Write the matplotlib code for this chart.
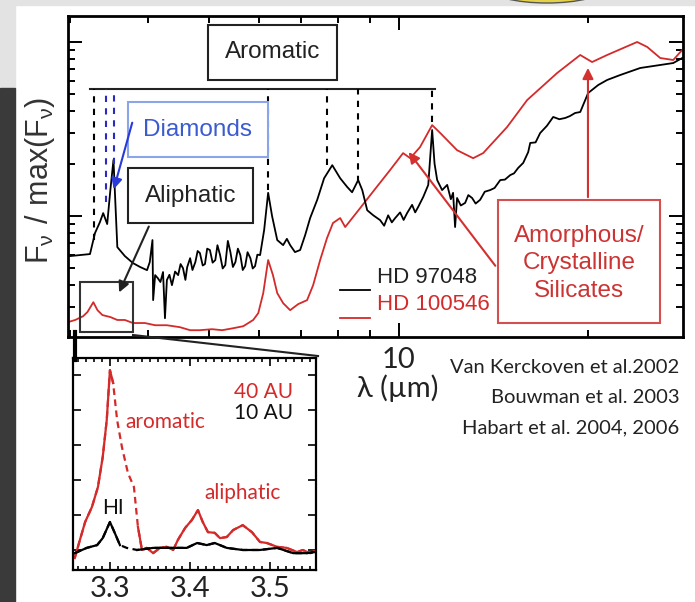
import numpy as np
import matplotlib.pyplot as plt
from matplotlib.patches import Rectangle, Ellipse
from matplotlib.lines import Line2D
from matplotlib.ticker import NullFormatter, MultipleLocator, FixedLocator

plt.rcParams['font.family'] = ['Liberation Sans', 'DejaVu Sans']

# ---- data: F_nu / max(F_nu) vs wavelength (micron) ----
# HD 97048 (black)
wl_97048 = [3.00, 3.23, 3.29, 3.35, 3.39, 3.44, 3.48, 3.52, 3.57, 3.67, 3.78, 3.88,
            3.98, 4.02, 4.06, 4.07, 4.10, 4.14, 4.18, 4.22, 4.25, 4.28, 4.32, 4.36,
            4.41, 4.46, 4.50, 4.54, 4.58, 4.61, 4.66, 4.70, 4.75, 4.79, 4.83, 4.88,
            4.92, 4.96, 5.01, 5.06, 5.11, 5.15, 5.20, 5.25, 5.30, 5.35, 5.40, 5.45,
            5.50, 5.55, 5.60, 5.65, 5.70, 5.75, 5.81, 5.86, 5.91, 5.96, 6.02, 6.11,
            6.20, 6.29, 6.41, 6.55, 6.64, 6.72, 6.84, 6.97, 7.10, 7.23, 7.42, 7.61,
            7.84, 8.07, 8.28, 8.43, 8.62, 8.75, 8.91, 9.11, 9.34, 9.48, 9.62, 9.75,
            9.87, 10.05, 10.18, 10.31, 10.50, 10.62, 10.74, 10.94, 11.14, 11.30, 11.40,
            11.51, 11.72, 11.94, 12.10, 12.20, 12.29, 12.38, 12.55, 12.75, 12.90, 13.08,
            13.25, 13.47, 13.70, 13.97, 14.20, 14.50, 14.75, 15.04, 15.25, 15.48, 15.77,
            16.06, 16.18, 16.50, 16.78, 17.20, 17.60, 18.00, 18.39, 18.70, 19.07, 19.43,
            20.00, 20.75, 21.44, 22.49, 24.20, 26.04, 27.31, 28.22]
f_97048 = [0.0589, 0.0605, 0.0799, 0.0924, 0.104, 0.090, 0.141, 0.210, 0.0663, 0.0589, 0.0537, 0.0510,
           0.0489, 0.0544, 0.0728, 0.0329, 0.0458, 0.0440, 0.0418, 0.0477, 0.0259, 0.0429, 0.0460, 0.0401,
           0.0480, 0.0458, 0.0530, 0.0502, 0.0430, 0.0509, 0.0573, 0.0490, 0.0544, 0.0630, 0.0613, 0.0520,
           0.0530, 0.0650, 0.0638, 0.0540, 0.0559, 0.0680, 0.0597, 0.0500, 0.0523, 0.0720, 0.0621, 0.0510,
           0.0544, 0.0650, 0.0597, 0.0490, 0.0516, 0.0620, 0.0573, 0.0500, 0.0516, 0.0600, 0.0597, 0.0831,
           0.136, 0.100, 0.0728, 0.0681, 0.0740, 0.0681, 0.0621, 0.0638, 0.0778, 0.0974, 0.124, 0.165,
           0.196, 0.165, 0.147, 0.137, 0.161, 0.141, 0.108, 0.101, 0.0948, 0.088, 0.101, 0.092,
           0.0974, 0.105, 0.095, 0.104, 0.116, 0.105, 0.113, 0.129, 0.151, 0.312, 0.200,
           0.161, 0.141, 0.151, 0.125, 0.136, 0.0865, 0.127, 0.115, 0.119, 0.132, 0.127,
           0.118, 0.124, 0.138, 0.141, 0.145, 0.161, 0.162, 0.172, 0.176, 0.189, 0.202,
           0.233, 0.263, 0.265, 0.300, 0.330, 0.371, 0.360, 0.366, 0.375, 0.391, 0.396,
           0.509, 0.566, 0.605, 0.646, 0.709, 0.738, 0.757, 0.809]

# HD 100546 (red)
wl_100546 = [2.98, 3.06, 3.15, 3.20, 3.27, 3.32, 3.38, 3.48, 3.57, 3.67, 3.78, 3.95,
             4.10, 4.28, 4.49, 4.66, 4.83, 5.05, 5.24, 5.46, 5.66, 5.87, 5.98, 6.09,
             6.20, 6.31, 6.41, 6.55, 6.72, 6.92, 7.15, 7.31, 7.50, 7.69, 7.86, 8.07,
             8.22, 8.68, 9.17, 9.69, 10.16, 10.43, 10.81, 11.30, 11.64, 12.38, 13.13,
             13.62, 14.87, 16.00, 17.86, 19.43, 20.29, 21.44, 22.75, 23.93, 24.83,
             26.04, 27.31, 28.22]
f_100546 = [0.0246, 0.0253, 0.0266, 0.0281, 0.0320, 0.0288, 0.0270, 0.0263, 0.0253, 0.0253, 0.0243, 0.0243,
            0.0236, 0.0236, 0.0230, 0.0221, 0.0221, 0.0224, 0.0221, 0.0227, 0.0233, 0.0253, 0.0277, 0.0361,
            0.0559, 0.0458, 0.0361, 0.0316, 0.0288, 0.0312, 0.0329, 0.0401, 0.0559, 0.0747, 0.0912, 0.0974,
            0.0865, 0.111, 0.143, 0.184, 0.230, 0.215, 0.249, 0.333, 0.300, 0.239, 0.215,
            0.230, 0.325, 0.464, 0.664, 0.842, 0.767, 0.842, 0.924, 1.0, 0.936,
            0.809, 0.788, 0.900]

# inset: 3.2-3.6 micron, 40 AU (red) and 10 AU (black)
wl_40au = [3.256, 3.2625, 3.269, 3.2775, 3.285, 3.291, 3.296, 3.300, 3.304, 3.309, 3.315,
           3.3225, 3.330, 3.335, 3.340, 3.346, 3.354, 3.3625, 3.371, 3.379, 3.385, 3.394,
           3.4025, 3.410, 3.416, 3.4225, 3.431, 3.4375, 3.446, 3.454, 3.466, 3.4775, 3.4875,
           3.496, 3.509, 3.521, 3.534, 3.541, 3.550, 3.556]
f_40au = [0.077, 0.129, 0.180, 0.223, 0.280, 0.366, 0.471, 0.614, 0.577, 0.471, 0.394,
          0.320, 0.280, 0.166, 0.100, 0.106, 0.091, 0.106, 0.109, 0.100, 0.129, 0.163,
          0.186, 0.214, 0.180, 0.151, 0.149, 0.134, 0.137, 0.157, 0.171, 0.151, 0.123,
          0.120, 0.109, 0.106, 0.094, 0.100, 0.091, 0.097]
wl_10au = [3.256, 3.271, 3.284, 3.291, 3.300, 3.306, 3.3125, 3.321, 3.334, 3.354, 3.375,
           3.396, 3.409, 3.421, 3.431, 3.446, 3.466, 3.4875, 3.509, 3.529, 3.546, 3.556]
f_10au = [0.091, 0.106, 0.114, 0.134, 0.180, 0.149, 0.114, 0.106, 0.100, 0.106, 0.106,
          0.106, 0.120, 0.114, 0.120, 0.106, 0.100, 0.100, 0.106, 0.091, 0.091, 0.094]

pah_bands = [3.28, 6.2, 7.7, 8.6, 11.3]
pah_peaks = [0.073, 0.141, 0.196, 0.157, 0.347]
diamond_bands = [3.42, 3.53]
diamond_peaks = [0.12, 0.20]
band_top = 0.537

refs = ['Van Kerckoven et al.2002', 'Bouwman et al. 2003', 'Habart et al. 2004, 2006']

RED = '#d42a2a'
BLUE = '#3b5bd0'

fig = plt.figure(figsize=(6.95, 6.02), dpi=100)

# slide background bits
fig.add_artist(Rectangle((0, 0.9917), 1, 0.0083, transform=fig.transFigure, color='#e3e3e3', zorder=-5))
fig.add_artist(Rectangle((0, 0.8538), 0.0216, 0.1462, transform=fig.transFigure, color='#e3e3e3', zorder=-5))
fig.add_artist(Rectangle((0, 0), 0.0216, 0.8538, transform=fig.transFigure, color='#3a3a3a', zorder=-5))
fig.add_artist(Ellipse((0.787, 1.02), 0.1655, 0.05, transform=fig.transFigure, fc='#e6d24a', ec='#555555', lw=1, zorder=-4))

# ---- main spectrum ----
ax = fig.add_axes([0.0978, 0.4402, 0.8849, 0.5332])
ax.plot(wl_100546, f_100546, color=RED, lw=1.3)
ax.plot(wl_97048, f_97048, color='black', lw=1.3)
ax.set_xscale('log')
ax.set_yscale('log')
ax.set_xlim(2.98, 28.3)
ax.set_ylim(0.0202, 1.41)
ax.xaxis.set_major_locator(FixedLocator([10]))
ax.set_xticklabels(['10'])
ax.xaxis.set_minor_formatter(NullFormatter())
ax.yaxis.set_major_formatter(NullFormatter())
ax.yaxis.set_minor_formatter(NullFormatter())
ax.tick_params(which='both', direction='in', top=True, right=True, width=1.4)
ax.tick_params(which='major', length=10, pad=7, labelsize=21, labelcolor='#222', labelfontfamily='Lato')
ax.tick_params(which='minor', length=5)
for s in ax.spines.values():
    s.set_linewidth(2)

# band markers
ax.plot([3.23, 11.4], [band_top, band_top], color='#222', lw=1.5)
ax.vlines(pah_bands, pah_peaks, band_top, colors='black', linestyles=(0, (3, 3)), lw=1.5)
ax.vlines(diamond_bands, diamond_peaks, band_top, colors='#2a2ac0', linestyles=(0, (3, 3)), lw=1.5)

def box(x0, y0, w, h, ec, fc='none'):
    ax.add_patch(Rectangle((x0, y0), w, h, transform=ax.transAxes, fill=(fc != 'none'),
                           fc=fc, ec=ec, lw=1.5, clip_on=False, zorder=4))

lab = dict(transform=ax.transAxes, ha='center', va='center', fontsize=17.5, zorder=5)
box(0.2276, 0.801, 0.2098, 0.171, '#222')
ax.text(0.3325, 0.888, 'Aromatic', color='#222', **lab)
box(0.0976, 0.561, 0.2276, 0.171, '#8aa6e8', 'white')
ax.text(0.2114, 0.645, 'Diamonds', color=BLUE, **lab)
box(0.0976, 0.3551, 0.2032, 0.1714, '#222', 'white')
ax.text(0.1992, 0.440, 'Aliphatic', color='#222', **lab)
box(0.0195, 0.0156, 0.0862, 0.1554, '#333')
box(0.6992, 0.0436, 0.2634, 0.3832, '#d45050', 'white')
ax.text(0.831, 0.229, 'Amorphous/\nCrystalline\nSilicates', color='#cc3333', linespacing=1.3, **lab)

arrow = dict(arrowstyle='-|>', lw=1.5, mutation_scale=16)
ax.annotate('', xy=(0.0732, 0.452), xytext=(0.1057, 0.676), xycoords='axes fraction',
            arrowprops=dict(arrow, color='#2a3ad8'), zorder=6)
ax.annotate('', xy=(0.0813, 0.131), xytext=(0.1333, 0.352), xycoords='axes fraction',
            arrowprops=dict(arrow, color='#222'), zorder=6)
ax.annotate('', xy=(0.5512, 0.583), xytext=(0.6976, 0.215), xycoords='axes fraction',
            arrowprops=dict(arrow, color='#d43030'), zorder=6)
ax.annotate('', xy=(0.8455, 0.847), xytext=(0.8455, 0.427), xycoords='axes fraction',
            arrowprops=dict(arrow, color='#d43030'), zorder=6)

# legend
ax.plot([0.442, 0.491], [0.146, 0.146], color='black', lw=1.3, transform=ax.transAxes)
ax.plot([0.442, 0.491], [0.059, 0.059], color=RED, lw=1.3, transform=ax.transAxes)
ax.text(0.5024, 0.184, 'HD 97048', transform=ax.transAxes, va='center', fontsize=16, color='#222')
ax.text(0.5024, 0.0997, 'HD 100546', transform=ax.transAxes, va='center', fontsize=16, color=RED)

fig.text(0.0576, 0.701, r'$\mathregular{F_\nu\ /\ max(F_\nu)}$', rotation=90, fontsize=22,
         ha='center', va='center', color='#333')
fig.text(0.5727, 0.3555, 'λ (µm)', family='Lato', fontsize=21, ha='center', va='center', color='#222')
for i, r in enumerate(refs):
    fig.text(0.978, 0.389 - 0.05 * i, r, family='Lato', fontsize=14.5, ha='right', va='center', color='#222')

# zoom connector lines
fig.add_artist(Line2D([0.1079, 0.1079], [0.4485, 0.402], transform=fig.transFigure, lw=3, color='black'))
fig.add_artist(Line2D([0.1914, 0.4576], [0.4435, 0.4086], transform=fig.transFigure, lw=1.5, color='#222'))

# ---- inset ----
ax2 = fig.add_axes([0.1050, 0.0532, 0.3496, 0.3521])
w40 = np.array(wl_40au)
w10 = np.array(wl_10au)
f40 = np.array(f_40au)
f10 = np.array(f_10au)
ax2.plot(w40, f40, color=RED, lw=1.6, ls=(0, (3, 2)))
ax2.plot(w40, np.where((w40 > 3.304) & (w40 < 3.335), np.nan, f40), color=RED, lw=1.6)
ax2.plot(w10, f10, color='black', lw=1.6, ls=(0, (3, 2)))
ax2.plot(w10, np.where((w10 > 3.3125) & (w10 < 3.334), np.nan, f10), color='black', lw=1.6)
ax2.set_xlim(3.2538, 3.5575)
ax2.set_ylim(0.0429, 0.6486)
ax2.xaxis.set_major_locator(MultipleLocator(0.1))
ax2.xaxis.set_minor_locator(MultipleLocator(0.01))
ax2.yaxis.set_major_locator(MultipleLocator(0.1))
ax2.yaxis.set_major_formatter(NullFormatter())
ax2.tick_params(which='both', direction='in', top=True, right=True, width=1.2)
ax2.tick_params(which='major', length=6, pad=4, labelsize=21, labelcolor='#222', labelfontfamily='Lato')
ax2.tick_params(which='minor', length=3)
for s in ax2.spines.values():
    s.set_linewidth(1.6)

ins = dict(transform=ax2.transAxes, ha='center', va='center', family='Lato', fontsize=15)
ax2.text(0.786, 0.840, '40 AU', color=RED, **ins)
ax2.text(0.786, 0.741, '10 AU', color='#111', **ins)
ax2.text(0.379, 0.698, 'aromatic', color=RED, **ins)
ax2.text(0.700, 0.363, 'aliphatic', color=RED, **ins)
ax2.text(0.165, 0.292, 'HI', color='#111', **ins)

fig.savefig('out.png', dpi=100)
